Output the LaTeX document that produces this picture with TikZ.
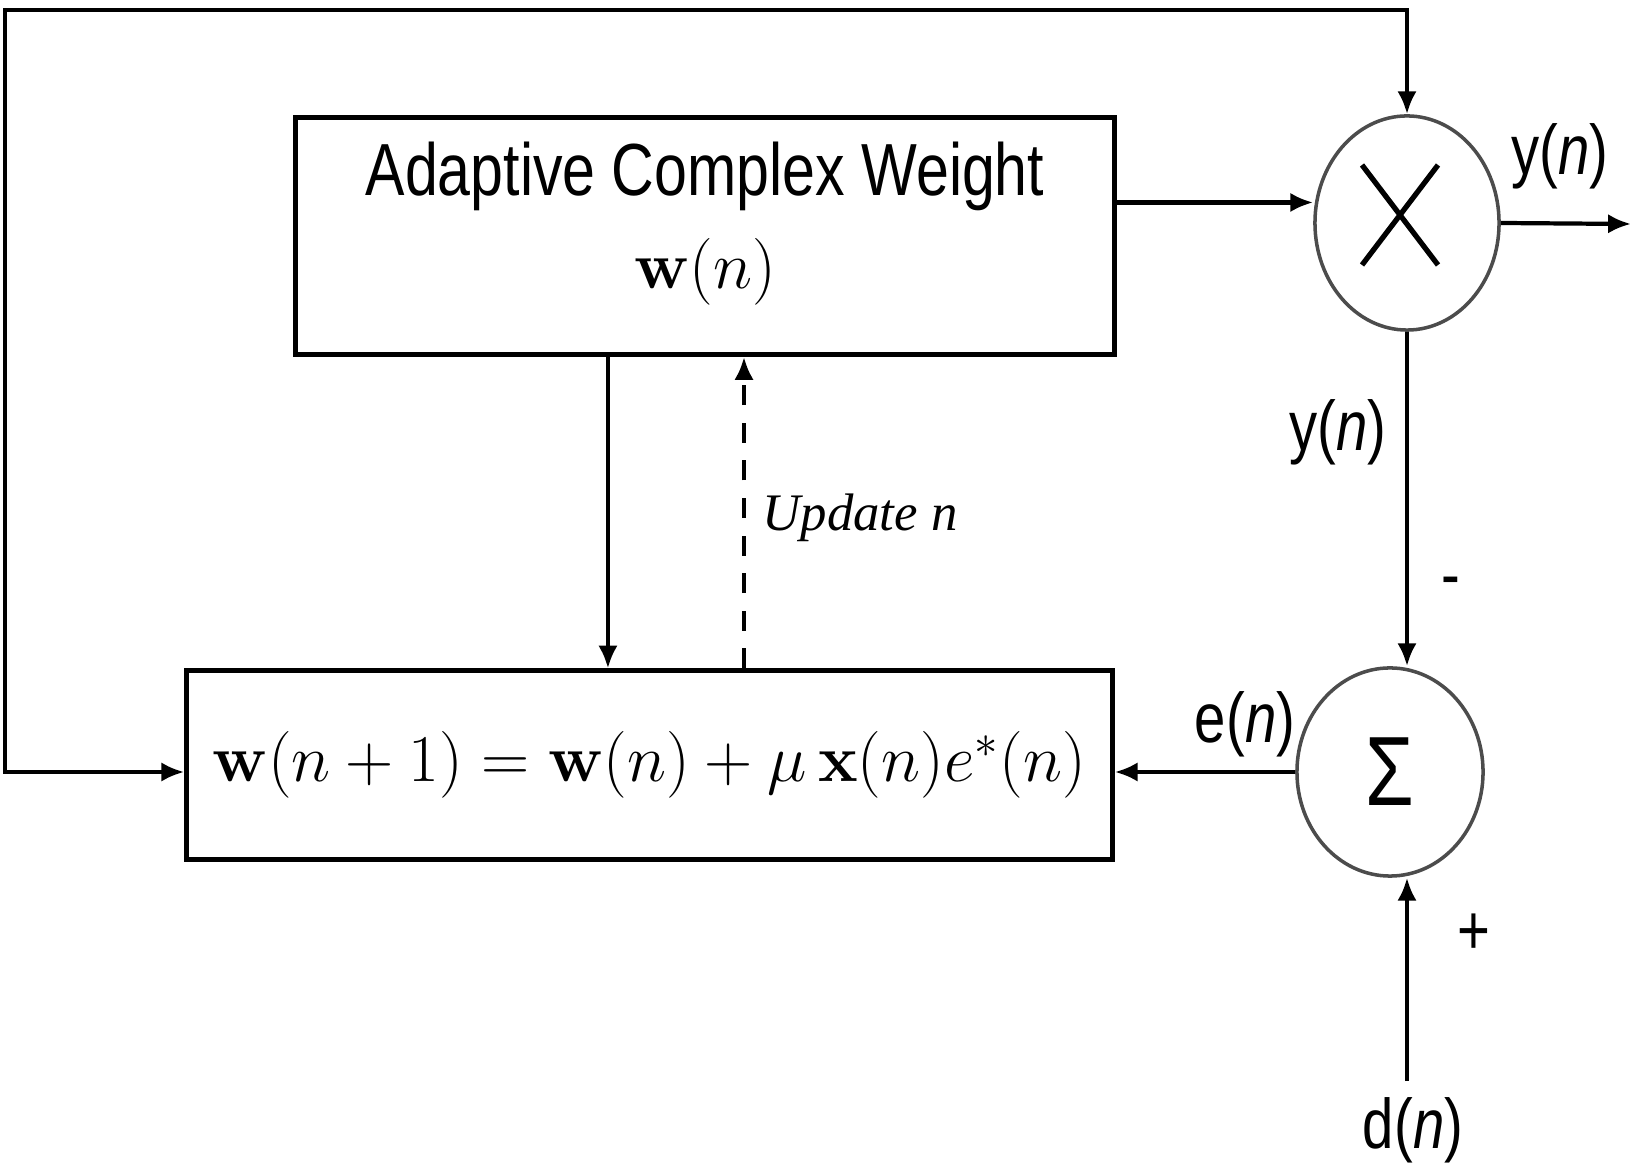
\RequirePackage{fix-cm}
\documentclass[tikz,border=0pt]{standalone}
\usepackage[no-math]{fontspec}
\setmainfont{Liberation Sans}[FakeStretch=0.8]
\newfontfamily\serifit{Liberation Serif}
\usetikzlibrary{arrows.meta,shapes.geometric}
\begin{document}
\begin{tikzpicture}[x=0.01cm,y=-0.01cm,
  >={Latex[length=6.5pt,width=5.5pt]},
  box/.style={draw,line width=1.4pt,inner sep=0pt},
  op/.style={draw=black!70,line width=1pt,ellipse,inner sep=0pt},
  wire/.style={line width=1.2pt},
  lbl/.style={inner sep=0pt,font=\fontsize{20}{22}\selectfont}]
\useasboundingbox (0,0) rectangle (1633,1168);
% blocks
\node[box,minimum width=8.18cm,minimum height=2.37cm,align=center,text depth=12pt,font=\fontsize{21}{24}\selectfont] (w) at (705,236) {Adaptive Complex Weight\\[2.5pt]{\fontsize{19}{20}\selectfont$\mathbf{w}(n)$}};
\node[box,minimum width=9.25cm,minimum height=1.88cm,font=\fontsize{19}{21}\selectfont] (upd) at (649.5,765) {$\mathbf{w}(n+1)=\mathbf{w}(n)+\mu\,\mathbf{x}(n)e^{*}(n)$};
\node[op,minimum width=1.84cm,minimum height=2.14cm,path picture={
  \draw[line width=1.5pt,black] ([shift={(-45,-58)}]path picture bounding box.center) -- ([shift={(31,42)}]path picture bounding box.center);
  \draw[line width=1.5pt,black] ([shift={(-45,42)}]path picture bounding box.center) -- ([shift={(31,-58)}]path picture bounding box.center);}] (mul) at (1407,223) {};
\node[op,minimum width=1.86cm,minimum height=2.08cm,font=\fontsize{28}{30}\selectfont] (sum) at (1390,772) {Σ};
% labels
\node[font=\fontsize{15}{16}\serifit\itshape,inner sep=0pt] (updlbl) at (860,518) {Update n};
\node[lbl] (yout) at (1560,156) {y(\textit{n})};
\node[lbl] (ymid) at (1338,432) {y(\textit{n})};
\node[lbl] (minus) at (1451,588) {-};
\node[lbl] (plus) at (1474,934) {+};
\node[lbl] (en) at (1245,724) {e(\textit{n})};
\node[lbl,outer sep=1.6mm] (dn) at (1413,1130) {d(\textit{n})};
\coordinate (corner) at (5,10);
\coordinate (out) at (1631,224);
% connectors
\path[draw,wire,<->] (mul.north) |- (corner) |- (upd.west |- sum.west);
\path[draw,wire,->] ([yshift=3.35mm]w.east) -- ([yshift=3.35mm]w.east -| mul.west);
\path[draw,wire,->] (mul.east) -- (out);
\path[draw,wire,->] (mul.south) -- (mul.south |- sum.north);
\path[draw,wire,->] (sum.west) -- (sum.west -| upd.east);
\path[draw,wire,->] (dn.north -| mul.south) -- (mul.south |- sum.south);
\path[draw,wire,->] ([xshift=-9.7mm]w.south) -- ([xshift=-9.7mm]w.south |- upd.north);
\path[draw,wire,dash pattern=on 5.7pt off 5pt,->] ([xshift=3.9mm]w.south |- upd.north) -- ([xshift=3.9mm]w.south);
\end{tikzpicture}
\end{document}
